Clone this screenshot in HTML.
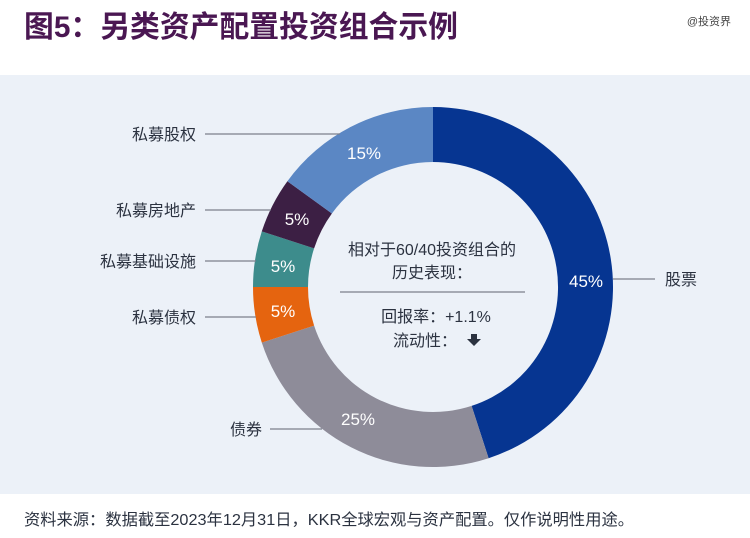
<!DOCTYPE html>
<html><head><meta charset="utf-8"><style>
body{margin:0;width:750px;height:538px;background:#fff;overflow:hidden;font-family:"Liberation Sans","Noto Sans CJK SC",sans-serif}
</style></head><body>
<svg width="750" height="538" xmlns="http://www.w3.org/2000/svg" style="display:block">
<text x="24" y="37" font-size="30" font-weight="bold" fill="#4a1752" textLength="434" lengthAdjust="spacingAndGlyphs" font-family="Liberation Sans, Noto Sans CJK SC, sans-serif">图5：另类资产配置投资组合示例</text>
<text x="731" y="25" font-size="11" fill="#444" text-anchor="end" font-family="Liberation Sans, Noto Sans CJK SC, sans-serif">@投资界</text>
<rect x="0" y="75" width="750" height="419" fill="#ecf1f8"/>
<g stroke="none">
<path d="M433,107 A180,180 0 0 1 488.6,458.2 L471.6,405.9 A125,125 0 0 0 433,162Z" fill="#063591"/>
<path d="M488.6,458.2 A180,180 0 0 1 261.8,342.6 L314.1,325.6 A125,125 0 0 0 471.6,405.9Z" fill="#8e8c99"/>
<path d="M261.8,342.6 A180,180 0 0 1 253,287 L308,287 A125,125 0 0 0 314.1,325.6Z" fill="#e5640f"/>
<path d="M253,287 A180,180 0 0 1 261.8,231.4 L314.1,248.4 A125,125 0 0 0 308,287Z" fill="#3d8c8c"/>
<path d="M261.8,231.4 A180,180 0 0 1 287.4,181.2 L331.9,213.5 A125,125 0 0 0 314.1,248.4Z" fill="#3c1f44"/>
<path d="M287.4,181.2 A180,180 0 0 1 433,107 L433,162 A125,125 0 0 0 331.9,213.5Z" fill="#5b87c4"/>
</g>
<g stroke="#7b7f8c" stroke-width="1.3">
<line x1="205" y1="134" x2="340" y2="134"/>
<line x1="205" y1="210" x2="271" y2="210"/>
<line x1="205" y1="261" x2="256" y2="261"/>
<line x1="205" y1="317" x2="256" y2="317"/>
<line x1="270" y1="429" x2="322" y2="429"/>
<line x1="613" y1="279" x2="655" y2="279"/>
<line x1="340" y1="292" x2="525" y2="292"/>
</g>
<g font-size="16" fill="#2b3240" font-family="Liberation Sans, Noto Sans CJK SC, sans-serif">
<text x="196" y="140" text-anchor="end">私募股权</text>
<text x="196" y="216" text-anchor="end">私募房地产</text>
<text x="196" y="267" text-anchor="end">私募基础设施</text>
<text x="196" y="323" text-anchor="end">私募债权</text>
<text x="262" y="435" text-anchor="end">债券</text>
<text x="665" y="285">股票</text>
</g>
<g font-size="17" fill="#fff" text-anchor="middle" font-family="Liberation Sans, Noto Sans CJK SC, sans-serif">
<text x="586" y="287">45%</text>
<text x="358" y="425">25%</text>
<text x="297" y="225">5%</text>
<text x="283" y="272">5%</text>
<text x="283" y="317">5%</text>
<text x="364" y="159">15%</text>
</g>
<g font-size="16" fill="#2b3240" text-anchor="middle" font-family="Liberation Sans, Noto Sans CJK SC, sans-serif">
<text x="432" y="255">相对于60/40投资组合的</text>
<text x="432" y="278">历史表现：</text>
<text x="436" y="322">回报率：+1.1%</text>
<text x="425" y="346">流动性：</text>
</g>
<path d="M471,334 h6 v5 h4 l-7,7 l-7,-7 h4z" fill="#2b3240"/>
<text x="24" y="525" font-size="16" fill="#2b3240" textLength="610" lengthAdjust="spacingAndGlyphs" font-family="Liberation Sans, Noto Sans CJK SC, sans-serif">资料来源：数据截至2023年12月31日，KKR全球宏观与资产配置。仅作说明性用途。</text>
</svg>
</body></html>
